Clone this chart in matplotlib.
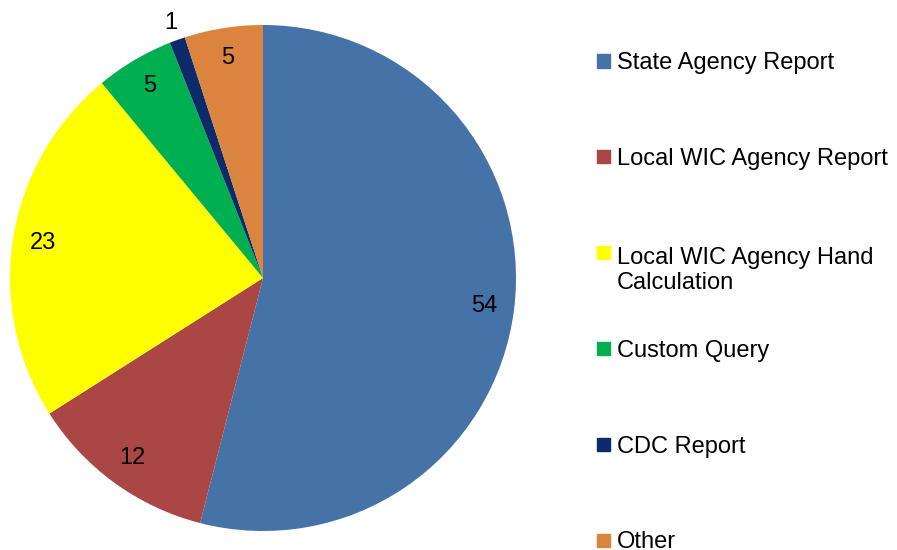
import matplotlib.pyplot as plt
from matplotlib.patches import Rectangle
import numpy as np

labels = ["State Agency Report", "Local WIC Agency Report",
          "Local WIC Agency Hand\nCalculation", "Custom Query",
          "CDC Report", "Other"]
values = [54, 12, 23, 5, 1, 5]
colors = ["#4573A7", "#AA4643", "#FFFF00", "#00B050", "#0D2A6B", "#DB843D"]

plt.rcParams['font.family'] = ['Liberation Sans', 'DejaVu Sans']

W, H = 897, 550
fig = plt.figure(figsize=(W / 100, H / 100), dpi=100)

# pie centre / radius in pixels
cx, cy, r = 263, 278, 253
ax = fig.add_axes([(cx - r) / W, (H - cy - r) / H, 2 * r / W, 2 * r / H])

vals = iter(values)
wedges, texts, autotexts = ax.pie(values, colors=colors, startangle=90,
                                  counterclock=False, radius=1.0,
                                  autopct=lambda p: "%d" % next(vals),
                                  pctdistance=0.88,
                                  wedgeprops=dict(linewidth=0),
                                  textprops=dict(fontsize=17, color="black"))
# the tiny slice gets its label outside
small = values.index(min(values))
w = wedges[small]
ang = np.deg2rad((w.theta1 + w.theta2) / 2)
autotexts[small].set_position((1.07 * np.cos(ang), 1.07 * np.sin(ang)))
ax.set_xlim(-1, 1)
ax.set_ylim(-1, 1)
ax.set_aspect('auto')
ax.axis('off')

# legend
y0, dy = 61, 95.8
line_px = 28
for i, (lab, col) in enumerate(zip(labels, colors)):
    y = y0 + i * dy
    nl = lab.count("\n")
    fig.patches.append(Rectangle((597 / W, (H - y - 6.5) / H), 13 / W, 13 / H,
                                 transform=fig.transFigure, color=col,
                                 figure=fig))
    # baseline is of the last line, so push it down for wrapped labels
    fig.text(617 / W, (H - y - 8.5 - nl * line_px) / H, lab, fontsize=17,
             va='baseline', ha='left', linespacing=1.2)

fig.savefig("out.png", dpi=100)
